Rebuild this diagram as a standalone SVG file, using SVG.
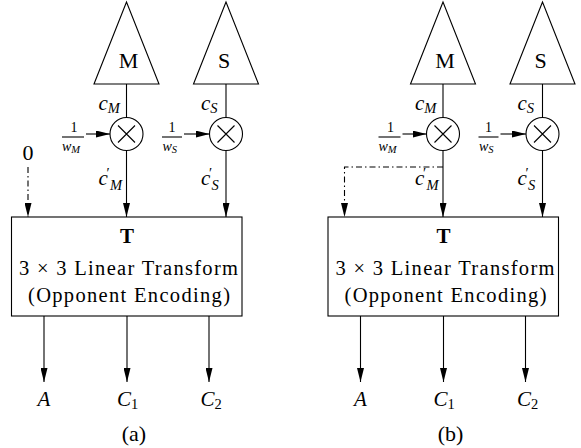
<svg xmlns="http://www.w3.org/2000/svg" width="581" height="448" viewBox="0 0 581 448">
  <style>
    .ln { fill: none; stroke: #000; stroke-width: 1.1; }
    .dd { fill: none; stroke: #000; stroke-width: 1.1; stroke-dasharray: 6 3 1.5 3; }
    .sh { fill: #fff; stroke: #000; stroke-width: 1.1; }
    text { font-family: "Liberation Serif", "Times New Roman", serif; fill: #000; }
    .rm { font-size: 22px; }
    .bx { font-size: 20.5px; }
    .it { font-style: italic; font-size: 21px; }
    .sub { font-size: 14.5px; }
    .fr { font-size: 14px; }
    .frs { font-size: 10.5px; }
    .mid { text-anchor: middle; }
  </style>
  <defs>
    <marker id="ah" viewBox="0 0 14 7" refX="14" refY="3.5" markerWidth="14" markerHeight="7" markerUnits="userSpaceOnUse" orient="auto">
      <path d="M0,0 L14,3.5 L0,7 z" fill="#000"/>
    </marker>
  </defs>

  <!-- Panel (a): fixed zero input to the transform -->
  <g id="panel-a">
    <g id="a-connectors">
      <line class="ln" x1="126.5" y1="84" x2="126.5" y2="117.5"/>
      <line class="ln" x1="126.5" y1="150.5" x2="126.5" y2="217" marker-end="url(#ah)"/>
      <line class="ln" x1="226" y1="84" x2="226" y2="117.5"/>
      <line class="ln" x1="226" y1="150.5" x2="226" y2="217" marker-end="url(#ah)"/>
      <line class="ln" x1="86" y1="134" x2="110" y2="134" marker-end="url(#ah)"/>
      <line class="ln" x1="184" y1="134" x2="209.5" y2="134" marker-end="url(#ah)"/>
      <line class="dd" x1="28" y1="167" x2="28" y2="217" marker-end="url(#ah)"/>
      <line class="ln" x1="44" y1="316" x2="44" y2="382" marker-end="url(#ah)"/>
      <line class="ln" x1="127" y1="316" x2="127" y2="382" marker-end="url(#ah)"/>
      <line class="ln" x1="209" y1="316" x2="209" y2="382" marker-end="url(#ah)"/>
    </g>
    <g id="a-cone-M">
      <polygon class="sh" points="126.5,2 94,84 159,84"/>
      <text class="rm mid" x="128.5" y="68">M</text>
    </g>
    <g id="a-cone-S">
      <polygon class="sh" points="226,2 193.5,84 258.5,84"/>
      <text class="rm mid" x="224" y="68">S</text>
    </g>
    <g id="a-mult-M">
      <circle class="sh" cx="126.5" cy="134" r="16.5"/>
      <path class="ln" d="M118,125.5 L135,142.5 M135,125.5 L118,142.5"/>
    </g>
    <g id="a-mult-S">
      <circle class="sh" cx="226" cy="134" r="16.5"/>
      <path class="ln" d="M217.5,125.5 L234.5,142.5 M234.5,125.5 L217.5,142.5"/>
    </g>
    <g id="a-weight-M">
      <text class="fr mid" x="74" y="132">1</text>
      <line class="ln" x1="62" y1="137" x2="84" y2="137"/>
      <text class="fr" x="62" y="150.5"><tspan font-style="italic">w</tspan><tspan class="frs" font-style="italic" dy="2.5">M</tspan></text>
    </g>
    <g id="a-weight-S">
      <text class="fr mid" x="172" y="132">1</text>
      <line class="ln" x1="162" y1="137" x2="182" y2="137"/>
      <text class="fr" x="162.5" y="150.5"><tspan font-style="italic">w</tspan><tspan class="frs" font-style="italic" dy="2.5">S</tspan></text>
    </g>
    <g id="a-labels">
      <text class="it" x="98.5" y="110">c<tspan class="sub" dy="3">M</tspan></text>
      <text class="it" x="201" y="110">c<tspan class="sub" dy="3">S</tspan></text>
      <text class="it" x="98.5" y="184.5">c</text>
      <text class="sub" x="106.5" y="178">′</text>
      <text class="sub" font-style="italic" x="110" y="189.5">M</text>
      <text class="it" x="201" y="184.5">c</text>
      <text class="sub" x="209" y="178">′</text>
      <text class="sub" font-style="italic" x="211.5" y="189.5">S</text>
      <text class="rm mid" x="28" y="160">0</text>
    </g>
    <g id="a-transform-T">
      <rect class="sh" x="11.5" y="217" width="230.5" height="99"/>
      <text class="mid" x="127" y="243" font-size="21" font-weight="bold">T</text>
      <text class="bx mid" x="128.5" y="275" textLength="219" lengthAdjust="spacing">3 × 3 Linear Transform</text>
      <text class="bx mid" x="129" y="302" textLength="202" lengthAdjust="spacing">(Opponent Encoding)</text>
    </g>
    <g id="a-outputs">
      <text class="it mid" x="44" y="406">A</text>
      <text class="it" x="117" y="406">C<tspan class="sub" font-style="normal" dy="3">1</tspan></text>
      <text class="it" x="200.5" y="406">C<tspan class="sub" font-style="normal" dy="3">2</tspan></text>
    </g>
    <text id="a-caption" class="rm mid" x="134" y="441">(a)</text>
  </g>

  <!-- Panel (b): scaled M signal fed back into the first input -->
  <g id="panel-b" transform="translate(316.5,0)">
    <g id="b-connectors">
      <line class="ln" x1="126.5" y1="84" x2="126.5" y2="117.5"/>
      <line class="ln" x1="126.5" y1="150.5" x2="126.5" y2="217" marker-end="url(#ah)"/>
      <line class="ln" x1="226" y1="84" x2="226" y2="117.5"/>
      <line class="ln" x1="226" y1="150.5" x2="226" y2="217" marker-end="url(#ah)"/>
      <line class="ln" x1="86" y1="134" x2="110" y2="134" marker-end="url(#ah)"/>
      <line class="ln" x1="184" y1="134" x2="209.5" y2="134" marker-end="url(#ah)"/>
      <polyline class="dd" points="126.5,167 28,167 28,217" marker-end="url(#ah)"/>
      <line class="ln" x1="44" y1="316" x2="44" y2="382" marker-end="url(#ah)"/>
      <line class="ln" x1="127" y1="316" x2="127" y2="382" marker-end="url(#ah)"/>
      <line class="ln" x1="209" y1="316" x2="209" y2="382" marker-end="url(#ah)"/>
    </g>
    <g id="b-cone-M">
      <polygon class="sh" points="126.5,2 94,84 159,84"/>
      <text class="rm mid" x="128.5" y="68">M</text>
    </g>
    <g id="b-cone-S">
      <polygon class="sh" points="226,2 193.5,84 258.5,84"/>
      <text class="rm mid" x="224" y="68">S</text>
    </g>
    <g id="b-mult-M">
      <circle class="sh" cx="126.5" cy="134" r="16.5"/>
      <path class="ln" d="M118,125.5 L135,142.5 M135,125.5 L118,142.5"/>
    </g>
    <g id="b-mult-S">
      <circle class="sh" cx="226" cy="134" r="16.5"/>
      <path class="ln" d="M217.5,125.5 L234.5,142.5 M234.5,125.5 L217.5,142.5"/>
    </g>
    <g id="b-weight-M">
      <text class="fr mid" x="74" y="132">1</text>
      <line class="ln" x1="62" y1="137" x2="84" y2="137"/>
      <text class="fr" x="62" y="150.5"><tspan font-style="italic">w</tspan><tspan class="frs" font-style="italic" dy="2.5">M</tspan></text>
    </g>
    <g id="b-weight-S">
      <text class="fr mid" x="172" y="132">1</text>
      <line class="ln" x1="162" y1="137" x2="182" y2="137"/>
      <text class="fr" x="162.5" y="150.5"><tspan font-style="italic">w</tspan><tspan class="frs" font-style="italic" dy="2.5">S</tspan></text>
    </g>
    <g id="b-labels">
      <text class="it" x="98.5" y="110">c<tspan class="sub" dy="3">M</tspan></text>
      <text class="it" x="201" y="110">c<tspan class="sub" dy="3">S</tspan></text>
      <text class="it" x="98.5" y="184.5">c</text>
      <text class="sub" x="106.5" y="178">′</text>
      <text class="sub" font-style="italic" x="110" y="189.5">M</text>
      <text class="it" x="201" y="184.5">c</text>
      <text class="sub" x="209" y="178">′</text>
      <text class="sub" font-style="italic" x="211.5" y="189.5">S</text>
    </g>
    <g id="b-transform-T">
      <rect class="sh" x="11.5" y="217" width="230.5" height="99"/>
      <text class="mid" x="127" y="243" font-size="21" font-weight="bold">T</text>
      <text class="bx mid" x="128.5" y="275" textLength="219" lengthAdjust="spacing">3 × 3 Linear Transform</text>
      <text class="bx mid" x="129" y="302" textLength="202" lengthAdjust="spacing">(Opponent Encoding)</text>
    </g>
    <g id="b-outputs">
      <text class="it mid" x="44" y="406">A</text>
      <text class="it" x="117" y="406">C<tspan class="sub" font-style="normal" dy="3">1</tspan></text>
      <text class="it" x="200.5" y="406">C<tspan class="sub" font-style="normal" dy="3">2</tspan></text>
    </g>
    <text id="b-caption" class="rm mid" x="134" y="441">(b)</text>
  </g>
</svg>
